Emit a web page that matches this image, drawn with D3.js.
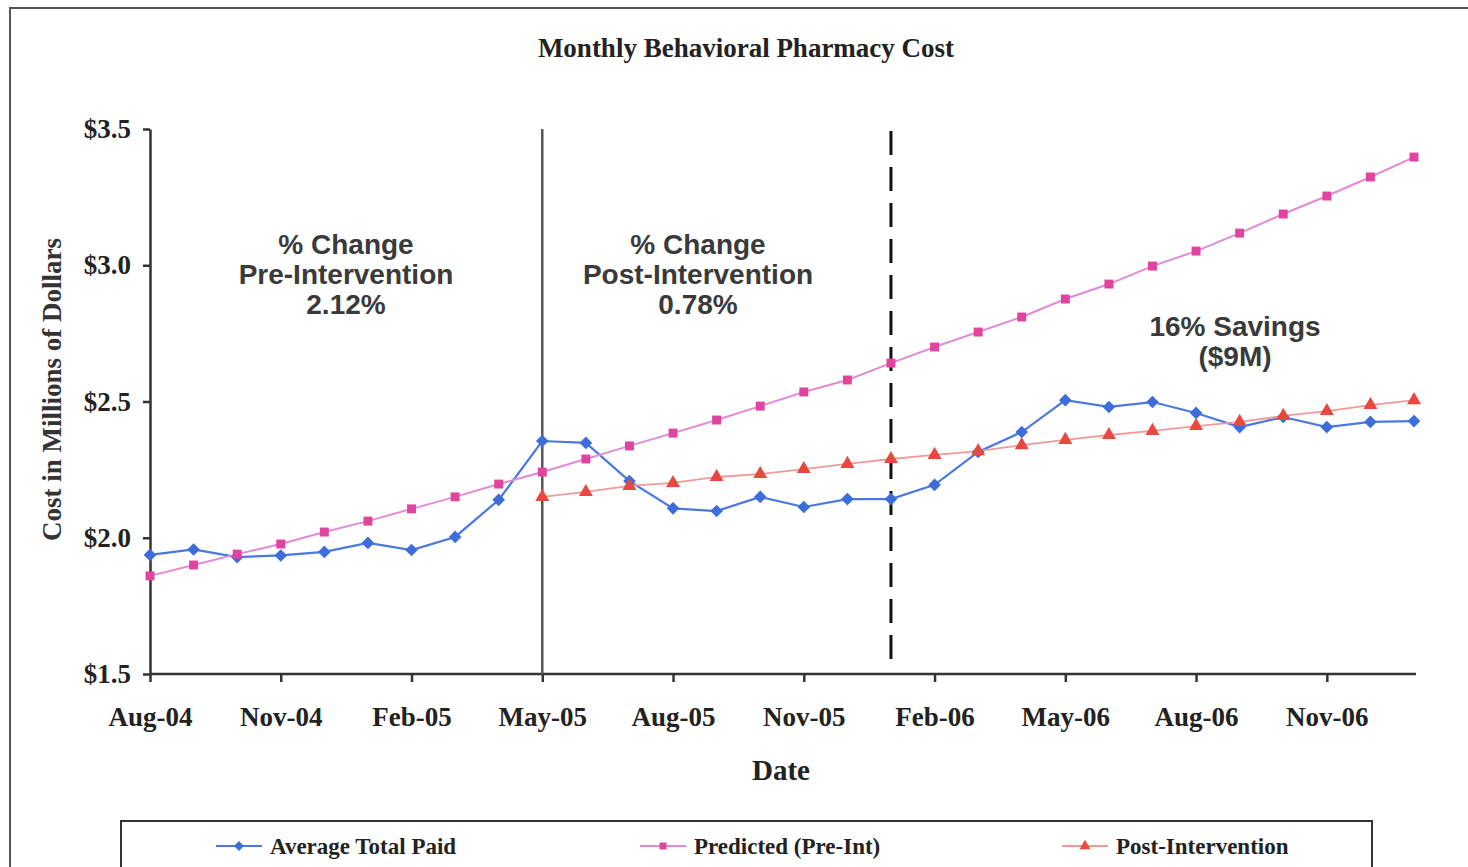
<!DOCTYPE html>
<html>
<head>
<meta charset="utf-8">
<script src="https://cdn.jsdelivr.net/npm/d3@7"></script>
<style>
  body { margin: 0; background: #fff; }
  svg { display: block; }
  .axis path, .axis line { stroke: #333; stroke-width: 2.5; }
  .axis text { font-family: "Liberation Serif", serif; font-weight: bold; font-size: 27px; fill: #222; }
  .note { font-family: "Liberation Sans", Arial, sans-serif; font-weight: bold; font-size: 28px; fill: #3a3a3a; }
</style>
</head>
<body>
<div id="chart"></div>
<script>
// months shown on the x axis (one point per month)
const months = ["Aug-04","Sep-04","Oct-04","Nov-04","Dec-04","Jan-05","Feb-05","Mar-05","Apr-05",
  "May-05","Jun-05","Jul-05","Aug-05","Sep-05","Oct-05","Nov-05","Dec-05","Jan-06","Feb-06",
  "Mar-06","Apr-06","May-06","Jun-06","Jul-06","Aug-06","Sep-06","Oct-06","Nov-06","Dec-06","Jan-07"];
const tickMonths = ["Aug-04","Nov-04","Feb-05","May-05","Aug-05","Nov-05","Feb-06","May-06","Aug-06","Nov-06"];
const yTicks = [1.5, 2.0, 2.5, 3.0, 3.5];

// cost in millions of dollars
const avgTotalPaid = [1.937,1.957,1.929,1.935,1.948,1.981,1.955,2.003,2.139,2.355,2.348,2.208,2.108,2.098,2.150,
  2.113,2.142,2.142,2.194,2.315,2.388,2.505,2.480,2.498,2.458,2.406,2.443,2.406,2.425,2.428];
const predictedPreInt = [1.860,1.900,1.940,1.977,2.021,2.061,2.106,2.150,2.197,2.241,2.289,2.337,2.384,2.432,2.483,
  2.535,2.579,2.641,2.700,2.755,2.810,2.876,2.931,2.997,3.052,3.118,3.188,3.254,3.324,3.397];
const postMonths = months.slice(9);
const postIntervention = [2.150,2.168,2.190,2.201,2.223,2.234,2.252,2.271,2.289,2.304,2.318,2.340,2.359,2.377,
  2.392,2.410,2.425,2.447,2.465,2.487,2.505];

const interventionMonth = "May-05";
const dashedMonth = "Jan-06";

const width = 1468, height = 867;

const svg = d3.select("#chart").append("svg")
    .attr("width", width)
    .attr("height", height);

// outer frame of the scanned page
svg.append("path")
    .attr("d", "M10,867 V8 H1468")
    .attr("fill", "none")
    .attr("stroke", "#555")
    .attr("stroke-width", 2);

const x = d3.scalePoint()
    .domain(months)
    .range([150, 1414]);

const y = d3.scaleLinear()
    .domain([1.5, 3.5])
    .range([674, 129]);

svg.append("text")
    .attr("x", 746)
    .attr("y", 57)
    .attr("text-anchor", "middle")
    .style("font-family", "Liberation Serif, serif")
    .style("font-weight", "bold")
    .style("font-size", "27px")
    .attr("fill", "#222")
    .text("Monthly Behavioral Pharmacy Cost");

// axes
const xAxis = d3.axisBottom(x)
    .tickValues(tickMonths)
    .tickSize(8)
    .tickSizeOuter(0)
    .tickPadding(25);

svg.append("g")
    .attr("class", "axis")
    .attr("transform", `translate(0,${y(1.5)})`)
    .call(xAxis)
    .select(".domain")
    .attr("d", `M${x.range()[0]},0H1416`);

const yAxis = d3.axisLeft(y)
    .tickValues(yTicks)
    .tickSize(7)
    .tickSizeOuter(0)
    .tickPadding(12)
    .tickFormat(d => "$" + d.toFixed(1));

svg.append("g")
    .attr("class", "axis")
    .attr("transform", `translate(${x.range()[0]},0)`)
    .call(yAxis);

svg.append("text")
    .attr("transform", `translate(61,${(y(1.5) + y(3.5)) / 2 - 12}) rotate(-90)`)
    .attr("text-anchor", "middle")
    .style("font-family", "Liberation Serif, serif")
    .style("font-weight", "bold")
    .style("font-size", "27px")
    .attr("fill", "#333")
    .text("Cost in Millions of Dollars");

svg.append("text")
    .attr("x", 781)
    .attr("y", 780)
    .attr("text-anchor", "middle")
    .style("font-family", "Liberation Serif, serif")
    .style("font-weight", "bold")
    .style("font-size", "29px")
    .attr("fill", "#222")
    .text("Date");

// intervention markers
svg.append("line")
    .attr("x1", x(interventionMonth)).attr("x2", x(interventionMonth))
    .attr("y1", y(3.5)).attr("y2", y(1.5))
    .attr("stroke", "#555").attr("stroke-width", 2.5);

svg.append("line")
    .attr("x1", x(dashedMonth)).attr("x2", x(dashedMonth))
    .attr("y1", y(3.5) + 2).attr("y2", y(1.5) - 8)
    .attr("stroke", "#111").attr("stroke-width", 3)
    .attr("stroke-dasharray", "24,12");

// series (diamond = square turned 45deg)
const series = [
  { name: "Average Total Paid", cats: months, vals: avgTotalPaid, line: "#4a78e0", mark: "#3d6ddb", sym: d3.symbolSquare, rot: 45, size: 80, lw: 2.2 },
  { name: "Predicted (Pre-Int)", cats: months, vals: predictedPreInt, line: "#e38ad6", mark: "#e0449e", sym: d3.symbolSquare, rot: 0, size: 80, lw: 2 },
  { name: "Post-Intervention", cats: postMonths, vals: postIntervention, line: "#f29a9a", mark: "#e8483e", sym: d3.symbolTriangle, rot: 0, size: 85, lw: 1.8 }
];

const line = d3.line()
    .x(d => x(d[0]))
    .y(d => y(d[1]));

series.forEach(s => {
  const pts = s.cats.map((c, i) => [c, s.vals[i]]);
  svg.append("path")
      .datum(pts)
      .attr("d", line)
      .attr("fill", "none")
      .attr("stroke", s.line)
      .attr("stroke-width", s.lw);
});

series.forEach(s => {
  const pts = s.cats.map((c, i) => [c, s.vals[i]]);
  svg.append("g").selectAll("path")
      .data(pts)
      .join("path")
      .attr("transform", d => `translate(${x(d[0])},${y(d[1])}) rotate(${s.rot})`)
      .attr("d", d3.symbol().type(s.sym).size(s.size))
      .attr("fill", s.mark);
});

// annotations
const notes = [
  { cx: 346, top: 254, lines: ["% Change", "Pre-Intervention", "2.12%"] },
  { cx: 698, top: 254, lines: ["% Change", "Post-Intervention", "0.78%"] },
  { cx: 1235, top: 336, lines: ["16% Savings", "($9M)"] }
];

notes.forEach(n => {
  const t = svg.append("text")
      .attr("class", "note")
      .attr("text-anchor", "middle");
  n.lines.forEach((l, i) => {
    t.append("tspan")
        .attr("x", n.cx)
        .attr("y", n.top + i * 30)
        .text(l);
  });
});

// legend
svg.append("rect")
    .attr("x", 121).attr("y", 821)
    .attr("width", 1251).attr("height", 60)
    .attr("fill", "none")
    .attr("stroke", "#333")
    .attr("stroke-width", 2);

const legendX = [216, 640, 1062];
series.forEach((s, i) => {
  const g = svg.append("g").attr("transform", `translate(${legendX[i]},846)`);
  g.append("line")
      .attr("x1", 0).attr("x2", 46)
      .attr("stroke", s.line).attr("stroke-width", s.lw);
  g.append("path")
      .attr("transform", `translate(23,0) rotate(${s.rot})`)
      .attr("d", d3.symbol().type(s.sym).size(s.size * 0.6))
      .attr("fill", s.mark);
  g.append("text")
      .attr("x", 54)
      .attr("y", 8)
      .style("font-family", "Liberation Serif, serif")
      .style("font-weight", "bold")
      .style("font-size", "23px")
      .attr("fill", "#222")
      .text(s.name);
});
</script>
</body>
</html>
